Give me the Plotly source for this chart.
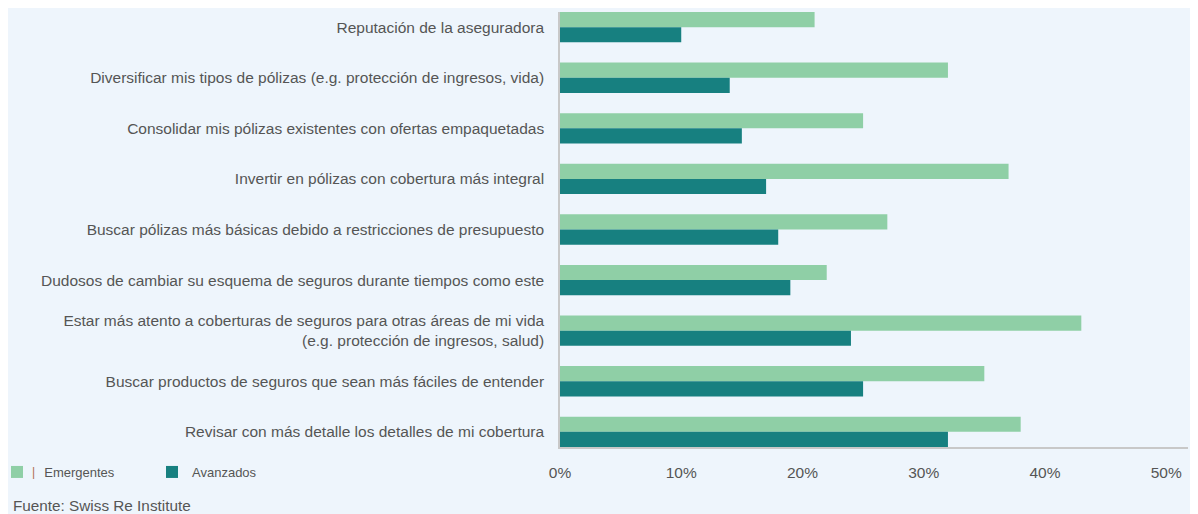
import plotly.graph_objects as go

categories = [
    "Reputación de la aseguradora",
    "Diversificar mis tipos de pólizas (e.g. protección de ingresos, vida)",
    "Consolidar mis pólizas existentes con ofertas empaquetadas",
    "Invertir en pólizas con cobertura más integral",
    "Buscar pólizas más básicas debido a restricciones de presupuesto",
    "Dudosos de cambiar su esquema de seguros durante tiempos como este",
    "Estar más atento a coberturas de seguros para otras áreas de mi vida<br>(e.g. protección de ingresos, salud)",
    "Buscar productos de seguros que sean más fáciles de entender",
    "Revisar con más detalle los detalles de mi cobertura",
]
emergentes = [21, 32, 25, 37, 27, 22, 43, 35, 38]
avanzados = [10, 14, 15, 17, 18, 19, 24, 25, 32]
tick_vals = [0, 10, 20, 30, 40, 50]
tick_text = ["0%", "10%", "20%", "30%", "40%", "50%"]

BG = "#EEF5FC"
TXT = "#555555"
FONT = "Liberation Sans"

# page body has an 8px margin; figure drawn in coordinates offset by 8px
OFF = 8
W, H = 1190, 506
L, R, T, B = 552, 10, 4, 67
pw, ph = W - L - R, H - T - B

def px(x):  # reference pixel -> paper x
    return (x - OFF - L) / pw

def py(y):  # reference pixel -> paper y
    return (H - B - (y - OFF)) / ph

fig = go.Figure()
fig.add_trace(go.Bar(y=categories, x=emergentes, orientation="h", name="\u00a0\u00a0Emergentes",
                     marker=dict(color="#8FCFA6", line=dict(width=0))))
fig.add_trace(go.Bar(y=categories, x=avanzados, orientation="h", name="Avanzados",
                     marker=dict(color="#178080", line=dict(width=0))))

fig.update_layout(
    width=W, height=H,
    margin=dict(l=L, r=R, t=T, b=B, pad=0, autoexpand=False),
    paper_bgcolor=BG, plot_bgcolor=BG,
    barmode="group", bargap=0.4, bargroupgap=0,
    font=dict(family=FONT, size=15, color=TXT),
    showlegend=True,
    legend=dict(orientation="h", x=px(-3), y=py(457), xanchor="left", yanchor="top",
                bgcolor="rgba(0,0,0,0)", font=dict(size=13, color=TXT),
                itemwidth=30, entrywidth=110, entrywidthmode="pixels", traceorder="normal"),
    xaxis=dict(range=[0, 51.8], tickvals=tick_vals, ticktext=tick_text, showgrid=False,
               zeroline=False, showline=True, linecolor="#C8C8C8", linewidth=2,
               ticks="", ticklabelstandoff=10, tickfont=dict(size=15.5, color=TXT),
               automargin=False),
    yaxis=dict(range=[8.3, -0.3], type="category", showgrid=False, zeroline=False,
               showline=True, linecolor="#C8C8C8", linewidth=1.5, ticks="",
               ticklabelstandoff=11, tickfont=dict(size=15.5, color=TXT),
               automargin=False),
    annotations=[
        dict(text="Fuente: Swiss Re Institute", xref="paper", yref="paper", x=px(11), y=py(505),
             xanchor="left", yanchor="middle", showarrow=False, font=dict(size=15.3, color=TXT)),
        dict(text="|", xref="paper", yref="paper", x=px(33), y=py(472),
             xanchor="center", yanchor="middle", showarrow=False, font=dict(size=12, color="#B07050")),
    ],
)

fig.write_html("out.html")
